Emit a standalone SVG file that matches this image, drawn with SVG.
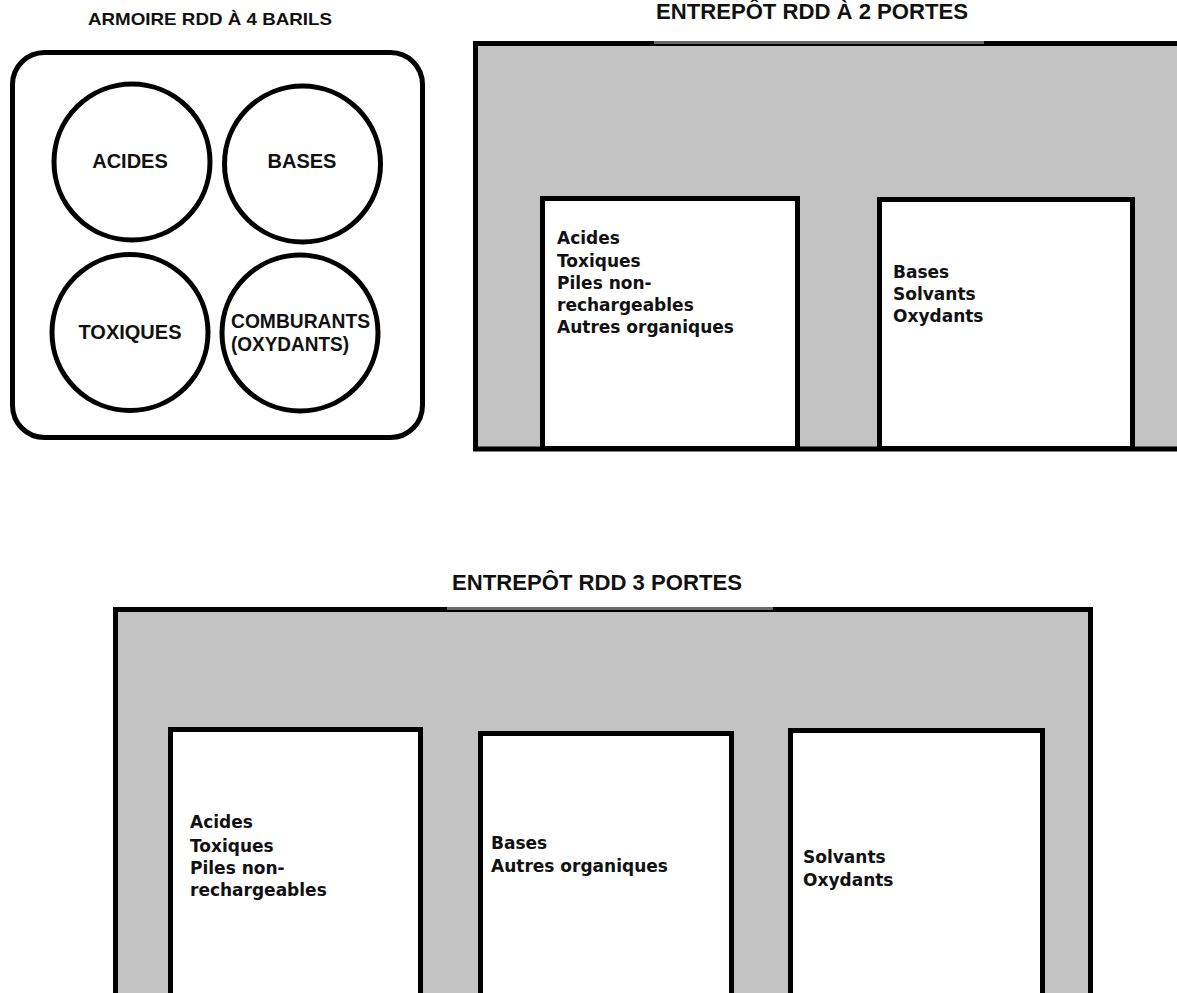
<svg xmlns="http://www.w3.org/2000/svg" width="1177" height="993" viewBox="0 0 1177 993">
<style>
.title{font-family:"Liberation Sans",Arial,sans-serif;font-weight:bold;fill:#111;text-anchor:middle}
.barrel{fill:#fff;stroke:#000;stroke-width:5}
.blbl{font-family:"Liberation Sans",Arial,sans-serif;font-weight:bold;font-size:20px;fill:#111;text-anchor:middle}
.wall{fill:#c3c3c3;stroke:#000;stroke-width:5}
.door{fill:#fff;stroke:#000;stroke-width:5}
.dtxt{font-family:"DejaVu Sans",sans-serif;font-weight:bold;font-size:17px;fill:#111}
.seg{stroke:#6a6a6a;stroke-width:3}
</style>
<rect width="1177" height="993" fill="#fff"/>

<g id="armoire">
<text class="title" x="210" y="25" font-size="17" textLength="244" lengthAdjust="spacingAndGlyphs">ARMOIRE RDD À 4 BARILS</text>
<rect x="12.5" y="52.5" width="410" height="385" rx="32" fill="#fff" stroke="#000" stroke-width="5"/>
<g id="baril-acides"><circle class="barrel" cx="132" cy="162" r="78"/><text class="blbl" x="130" y="168">ACIDES</text></g>
<g id="baril-bases"><circle class="barrel" cx="302.5" cy="164" r="78"/><text class="blbl" x="302" y="168">BASES</text></g>
<g id="baril-toxiques"><circle class="barrel" cx="130" cy="332.5" r="78"/><text class="blbl" x="130" y="339">TOXIQUES</text></g>
<g id="baril-comburants"><circle class="barrel" cx="300" cy="333" r="78"/><text class="blbl" x="231" y="328" font-size="19" style="text-anchor:start" textLength="139" lengthAdjust="spacingAndGlyphs">COMBURANTS</text><text class="blbl" x="231" y="351" font-size="19" style="text-anchor:start" textLength="118" lengthAdjust="spacingAndGlyphs">(OXYDANTS)</text></g>
</g>

<g id="entrepot-2">
<text class="title" x="812" y="19" font-size="22" textLength="312" lengthAdjust="spacingAndGlyphs">ENTREPÔT RDD À 2 PORTES</text>
<rect class="wall" x="475.5" y="43.5" width="720" height="405.5"/>
<line class="seg" x1="654" y1="42.5" x2="984" y2="42.5"/>
<g id="porte-2a"><rect class="door" x="542.5" y="198.5" width="255" height="250"/>
<text class="dtxt" x="557" y="244">Acides</text>
<text class="dtxt" x="557" y="267">Toxiques</text>
<text class="dtxt" x="557" y="289">Piles non-</text>
<text class="dtxt" x="557" y="311">rechargeables</text>
<text class="dtxt" x="557" y="333">Autres organiques</text></g>
<g id="porte-2b"><rect class="door" x="879.5" y="199.5" width="253" height="249"/>
<text class="dtxt" x="893" y="278">Bases</text>
<text class="dtxt" x="893" y="300">Solvants</text>
<text class="dtxt" x="893" y="322">Oxydants</text></g>
</g>

<g id="entrepot-3">
<text class="title" x="597" y="590" font-size="22" textLength="290" lengthAdjust="spacingAndGlyphs">ENTREPÔT RDD 3 PORTES</text>
<rect class="wall" x="115.5" y="609.5" width="975" height="420"/>
<line class="seg" x1="447" y1="608.5" x2="773" y2="608.5"/>
<g id="porte-3a"><rect class="door" x="170.5" y="729.5" width="250" height="300"/>
<text class="dtxt" x="190" y="828">Acides</text>
<text class="dtxt" x="190" y="852">Toxiques</text>
<text class="dtxt" x="190" y="874">Piles non-</text>
<text class="dtxt" x="190" y="896">rechargeables</text></g>
<g id="porte-3b"><rect class="door" x="480.5" y="733.5" width="251" height="300"/>
<text class="dtxt" x="491" y="849">Bases</text>
<text class="dtxt" x="491" y="872">Autres organiques</text></g>
<g id="porte-3c"><rect class="door" x="790.5" y="730.5" width="252" height="300"/>
<text class="dtxt" x="803" y="863">Solvants</text>
<text class="dtxt" x="803" y="886">Oxydants</text></g>
</g>
</svg>
